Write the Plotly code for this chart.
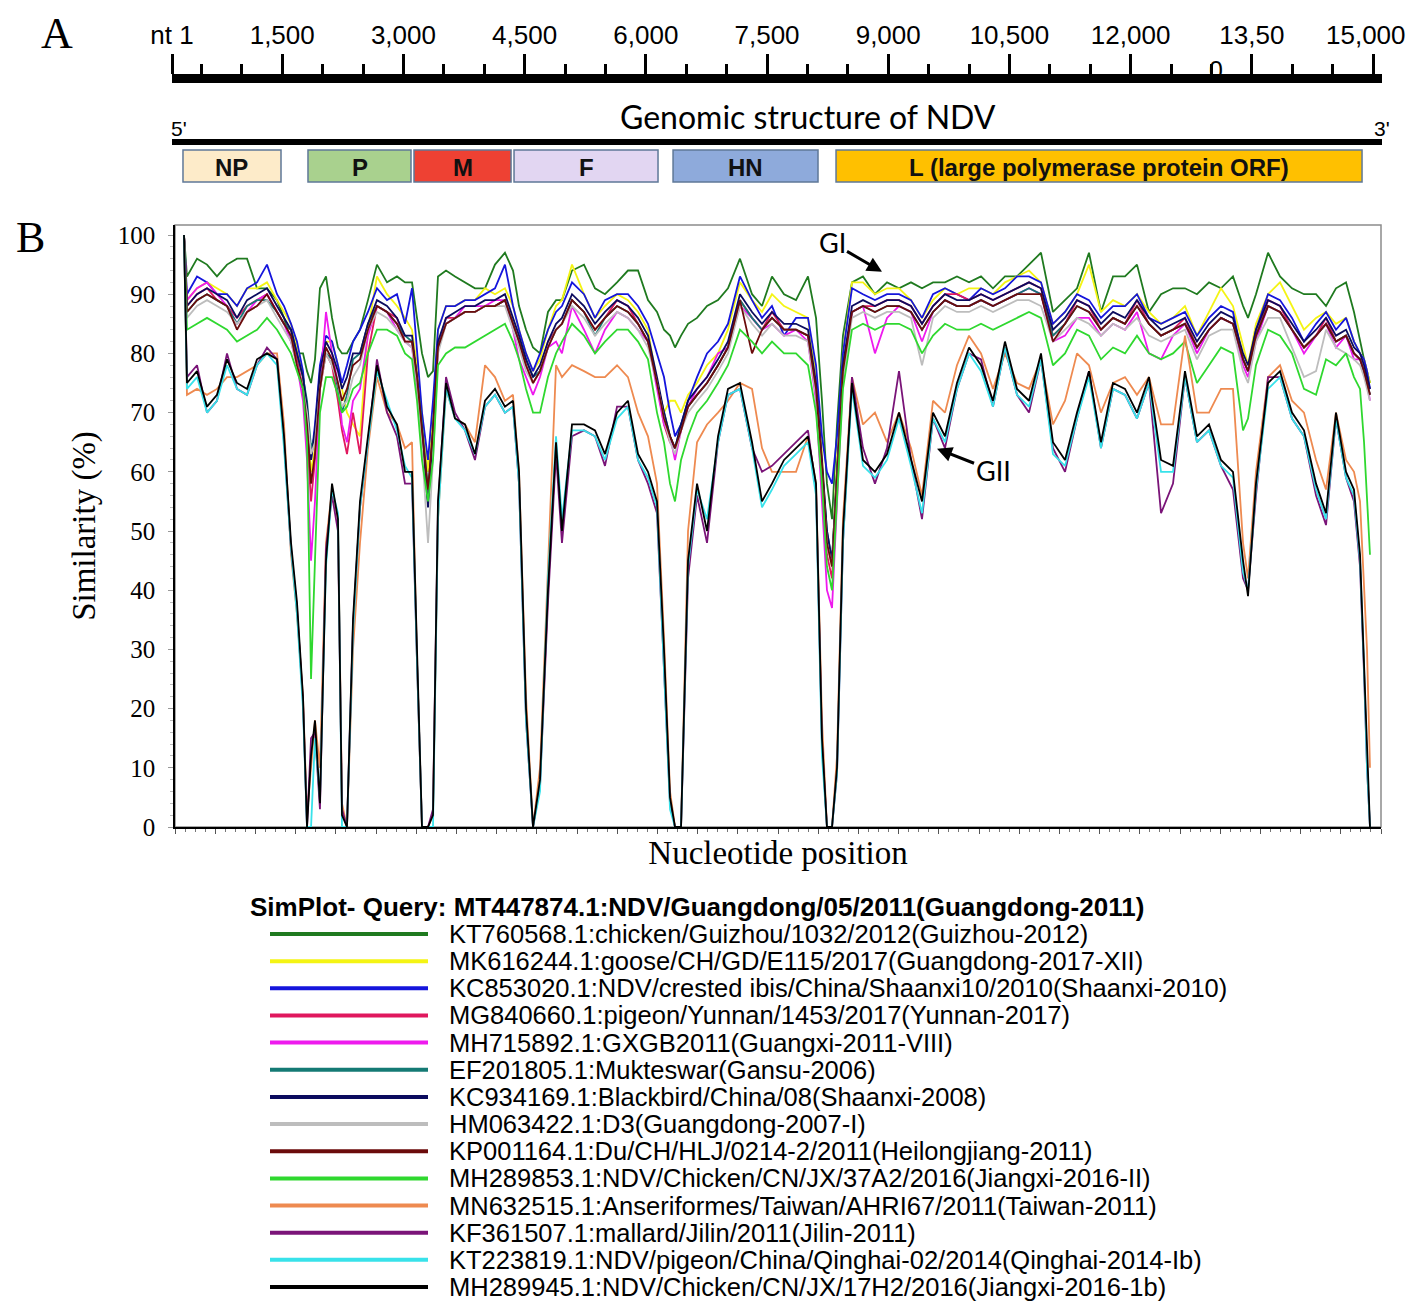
import plotly.graph_objects as go

# ---------------- data ----------------
# window midpoints along the genome (nt)
pos = [112, 149, 274, 398, 522, 647, 771, 896, 1020, 1144, 1269,
       1356, 1443, 1517, 1592, 1642, 1692, 1741, 1803, 1878, 1953, 2027,
       2077, 2139, 2214, 2301, 2400, 2512, 2637, 2761, 2861, 2948, 3010,
       3072, 3147, 3209, 3271, 3371, 3483, 3607, 3731, 3856, 3980, 4104,
       4204, 4279, 4366, 4453, 4540, 4639, 4739, 4813, 4938, 5087, 5224,
       5348, 5498, 5634, 5759, 5883, 5995, 6082, 6157, 6219, 6294, 6381,
       6493, 6617, 6754, 6878, 7027, 7177, 7301, 7425, 7575, 7724, 7873,
       7973, 8047, 8109, 8172, 8234, 8308, 8420, 8557, 8706, 8856, 9005,
       9154, 9291, 9428, 9577, 9726, 9876, 10025, 10174, 10323, 10473, 10622,
       10771, 10920, 11070, 11219, 11368, 11517, 11667, 11816, 11965, 12114, 12264,
       12413, 12562, 12711, 12861, 13010, 13159, 13284, 13346, 13445, 13595, 13744,
       13893, 14042, 14192, 14316, 14440, 14565, 14664, 14739, 14789, 14826, 14863]

guizhou_2012 = [100, 93, 96, 95, 93, 95, 96, 96, 91, 91, 89,
                86, 82, 80, 80, 77, 75, 79, 91, 93, 86, 81,
                80, 80, 82, 84, 89, 95, 92, 93, 92, 92, 86,
                80, 76, 77, 93, 94, 93, 92, 91, 91, 95, 97,
                94, 88, 84, 81, 80, 87, 89, 89, 94, 95, 91,
                90, 92, 94, 94, 89, 87, 84, 83, 81, 83, 85,
                86, 88, 89, 91, 96, 90, 88, 93, 90, 89, 93,
                86, 72, 58, 52, 68, 83, 92, 93, 90, 92, 91,
                92, 91, 92, 92, 93, 92, 93, 91, 93, 93, 95,
                97, 87, 89, 91, 97, 87, 93, 93, 95, 87, 90,
                91, 91, 90, 92, 91, 93, 88, 86, 90, 97, 93,
                91, 90, 90, 88, 91, 92, 87, 82, 79, 77, 75]
guangdong_2017 = [100, 89, 91, 92, 91, 90, 88, 91, 91, 92, 89,
                  87, 85, 81, 76, 70, 60, 64, 75, 82, 82, 78,
                  74, 70, 68, 66, 84, 93, 90, 88, 86, 84, 78,
                  70, 60, 70, 84, 88, 88, 89, 89, 91, 90, 91,
                  88, 84, 80, 77, 79, 84, 88, 89, 95, 90, 86,
                  88, 90, 89, 87, 84, 75, 70, 72, 72, 70, 73,
                  75, 78, 80, 84, 92, 89, 87, 90, 88, 87, 86,
                  76, 63, 48, 44, 62, 80, 92, 92, 90, 91, 91,
                  89, 86, 89, 91, 90, 91, 91, 90, 92, 93, 94,
                  92, 85, 87, 90, 95, 87, 89, 88, 90, 87, 85,
                  86, 88, 83, 87, 91, 88, 81, 78, 85, 90, 92,
                  88, 84, 86, 87, 85, 86, 82, 80, 79, 77, 75]
shaanxi_2010 = [100, 90, 93, 92, 90, 90, 88, 91, 92, 95, 90,
                88, 85, 82, 77, 70, 62, 68, 78, 83, 82, 78,
                75, 78, 82, 84, 87, 91, 89, 90, 85, 91, 80,
                70, 62, 72, 84, 88, 88, 89, 89, 90, 91, 95,
                88, 84, 80, 77, 80, 84, 87, 88, 92, 90, 86,
                89, 90, 90, 88, 85, 80, 76, 70, 66, 68, 72,
                76, 80, 82, 85, 93, 89, 86, 88, 83, 86, 86,
                78, 66, 60, 58, 66, 80, 91, 90, 89, 90, 90,
                89, 86, 90, 91, 90, 89, 91, 90, 91, 93, 93,
                92, 85, 87, 90, 89, 86, 88, 88, 90, 86, 85,
                86, 87, 83, 86, 88, 87, 79, 77, 84, 90, 89,
                86, 82, 85, 87, 84, 86, 82, 80, 79, 77, 74]
yunnan_2017 = [100, 88, 90, 91, 89, 88, 86, 88, 89, 90, 87,
               85, 84, 79, 74, 66, 55, 62, 74, 80, 78, 72,
               67, 63, 70, 63, 80, 88, 87, 86, 82, 82, 76,
               66, 56, 66, 81, 86, 86, 87, 87, 88, 88, 89,
               85, 82, 78, 75, 77, 82, 84, 85, 89, 87, 84,
               86, 89, 88, 85, 82, 75, 68, 65, 64, 67, 71,
               73, 75, 78, 81, 89, 86, 84, 87, 84, 84, 83,
               74, 60, 46, 42, 58, 77, 87, 88, 88, 89, 89,
               88, 85, 88, 90, 90, 89, 90, 89, 90, 91, 92,
               91, 83, 85, 89, 88, 84, 86, 85, 89, 85, 83,
               84, 86, 81, 84, 86, 85, 79, 77, 83, 89, 88,
               84, 81, 83, 86, 82, 83, 80, 79, 77, 75, 73]
guangxi_2011 = [100, 89, 91, 92, 90, 88, 85, 87, 89, 90, 87,
                85, 82, 78, 72, 62, 45, 55, 74, 87, 80, 75,
                68, 65, 72, 74, 83, 88, 87, 84, 82, 81, 74,
                65, 55, 66, 81, 85, 86, 88, 88, 88, 89, 89,
                84, 79, 76, 73, 76, 81, 82, 80, 88, 84, 80,
                84, 87, 86, 84, 82, 74, 68, 66, 62, 67, 71,
                74, 76, 80, 81, 88, 86, 84, 85, 83, 84, 82,
                72, 55, 40, 37, 55, 76, 87, 88, 80, 86, 88,
                87, 82, 87, 89, 88, 88, 89, 88, 89, 90, 91,
                90, 82, 83, 86, 86, 83, 85, 84, 87, 80, 79,
                83, 85, 80, 84, 86, 85, 78, 76, 82, 88, 87,
                84, 80, 83, 85, 81, 83, 79, 79, 77, 75, 72]
gansu_2006 = [100, 87, 89, 90, 89, 88, 85, 88, 89, 89, 87,
              85, 84, 80, 76, 72, 64, 66, 75, 80, 79, 74,
              70, 73, 79, 80, 85, 88, 87, 85, 83, 82, 76,
              68, 57, 67, 81, 85, 86, 87, 87, 88, 88, 89,
              85, 82, 79, 76, 77, 81, 84, 85, 89, 87, 83,
              86, 88, 87, 85, 82, 75, 70, 66, 64, 68, 71,
              73, 75, 78, 81, 89, 86, 84, 86, 84, 84, 83,
              74, 61, 50, 45, 60, 78, 87, 88, 87, 88, 88,
              87, 84, 87, 89, 88, 88, 89, 88, 89, 90, 91,
              90, 83, 85, 88, 87, 84, 86, 85, 88, 85, 83,
              84, 85, 81, 84, 86, 85, 79, 77, 83, 88, 87,
              84, 81, 83, 85, 82, 83, 80, 79, 77, 75, 73]
shaanxi_2008 = [100, 88, 90, 91, 90, 89, 86, 89, 90, 91, 88,
                86, 84, 80, 76, 71, 62, 67, 77, 82, 80, 77,
                74, 76, 80, 80, 85, 89, 88, 86, 83, 83, 76,
                67, 54, 67, 82, 86, 87, 88, 88, 89, 89, 90,
                86, 83, 79, 76, 78, 82, 85, 86, 90, 88, 85,
                87, 89, 88, 86, 83, 76, 70, 66, 64, 68, 72,
                74, 76, 79, 82, 90, 87, 85, 87, 85, 85, 84,
                75, 62, 50, 45, 60, 78, 88, 89, 88, 89, 89,
                88, 85, 88, 90, 89, 89, 90, 89, 90, 91, 92,
                91, 84, 86, 89, 88, 85, 87, 86, 89, 86, 84,
                85, 86, 82, 85, 87, 86, 80, 78, 84, 89, 88,
                85, 82, 84, 86, 83, 84, 81, 80, 78, 76, 74]
guangdong_2007 = [100, 86, 88, 89, 88, 87, 85, 87, 88, 89, 86,
                  84, 82, 78, 74, 70, 63, 65, 74, 80, 78, 75,
                  71, 72, 76, 78, 84, 87, 86, 84, 82, 81, 75,
                  64, 48, 62, 80, 85, 86, 87, 87, 88, 88, 88,
                  84, 81, 77, 75, 77, 81, 84, 85, 88, 86, 83,
                  85, 87, 86, 84, 81, 75, 69, 65, 63, 67, 70,
                  72, 74, 77, 80, 88, 85, 83, 85, 83, 83, 82,
                  73, 60, 48, 44, 58, 76, 86, 87, 86, 87, 87,
                  86, 78, 86, 88, 87, 87, 88, 87, 88, 89, 89,
                  88, 82, 84, 86, 85, 83, 85, 84, 86, 83, 82,
                  83, 84, 79, 83, 84, 84, 77, 75, 82, 86, 86,
                  81, 76, 77, 84, 81, 80, 79, 78, 76, 74, 72]
heilongjiang_2011 = [100, 87, 89, 90, 89, 88, 84, 87, 88, 90, 87,
                     85, 83, 78, 74, 68, 58, 63, 74, 81, 79, 75,
                     72, 74, 78, 79, 84, 88, 87, 85, 82, 82, 76,
                     67, 57, 67, 81, 85, 86, 87, 87, 88, 88, 89,
                     85, 82, 78, 75, 77, 81, 84, 85, 89, 87, 84,
                     86, 88, 87, 85, 82, 75, 69, 66, 64, 67, 71,
                     73, 75, 78, 81, 89, 80, 84, 86, 84, 84, 83,
                     74, 61, 48, 44, 59, 77, 87, 88, 87, 88, 88,
                     87, 84, 87, 89, 88, 88, 89, 88, 89, 90, 90,
                     90, 82, 85, 88, 87, 84, 86, 85, 88, 85, 83,
                     84, 85, 81, 84, 86, 85, 79, 77, 83, 88, 87,
                     84, 81, 83, 85, 82, 83, 80, 79, 77, 75, 73]
jiangxi_2016_ii = [100, 84, 85, 86, 85, 84, 82, 83, 84, 86, 84,
                   82, 80, 77, 74, 65, 25, 45, 70, 76, 76, 73,
                   70, 71, 74, 75, 80, 84, 84, 83, 80, 79, 72,
                   62, 55, 62, 78, 80, 81, 81, 82, 83, 84, 85,
                   82, 79, 74, 70, 70, 76, 80, 82, 85, 83, 80,
                   82, 84, 84, 82, 79, 70, 65, 58, 55, 62, 66,
                   70, 72, 75, 78, 84, 82, 80, 82, 80, 80, 78,
                   70, 58, 44, 40, 55, 74, 84, 85, 84, 85, 85,
                   84, 80, 83, 85, 84, 84, 85, 84, 85, 86, 87,
                   86, 78, 80, 84, 83, 79, 81, 80, 83, 80, 79,
                   80, 82, 75, 78, 81, 80, 67, 69, 78, 84, 83,
                   80, 74, 73, 79, 78, 80, 76, 74, 65, 55, 46]
taiwan_2011 = [100, 73, 74, 73, 74, 76, 76, 77, 78, 80, 80,
               68, 46, 36, 22, 2, 10, 18, 10, 48, 57, 52,
               4, 0, 30, 48, 64, 76, 70, 68, 64, 65, 28,
               0, 0, 2, 52, 74, 69, 68, 65, 78, 76, 72,
               73, 60, 22, 0, 10, 45, 78, 76, 78, 77, 76,
               76, 78, 76, 70, 66, 58, 32, 6, 0, 0, 50,
               65, 68, 70, 72, 75, 74, 64, 60, 60, 60, 66,
               58, 18, 0, 0, 12, 52, 76, 68, 70, 65, 70,
               64, 56, 72, 70, 78, 83, 80, 74, 80, 75, 74,
               79, 68, 72, 80, 78, 70, 75, 76, 73, 76, 68,
               68, 83, 70, 70, 74, 74, 48, 42, 60, 76, 78,
               72, 70, 62, 57, 70, 62, 60, 55, 40, 30, 10]
jilin_2011 = [100, 76, 78, 70, 72, 80, 74, 73, 78, 81, 79,
              65, 47, 37, 21, 0, 15, 16, 3, 47, 56, 50,
              3, 0, 34, 54, 65, 79, 70, 66, 58, 58, 28,
              0, 0, 3, 54, 76, 70, 67, 62, 71, 73, 70,
              71, 58, 18, 0, 7, 38, 63, 48, 66, 67, 66,
              61, 71, 71, 62, 58, 53, 28, 4, 0, 0, 42,
              56, 48, 65, 73, 74, 64, 60, 61, 63, 65, 67,
              57, 14, 0, 0, 9, 48, 76, 64, 58, 64, 77,
              62, 52, 69, 64, 74, 80, 79, 71, 81, 73, 70,
              79, 64, 60, 69, 77, 64, 74, 73, 69, 75, 53,
              58, 76, 65, 67, 61, 57, 42, 40, 56, 76, 76,
              69, 66, 56, 51, 69, 59, 55, 44, 26, 10, 0]
qinghai_2014 = [100, 74, 76, 70, 72, 78, 74, 73, 78, 80, 78,
                64, 47, 36, 20, 0, 0, 15, 5, 44, 57, 53,
                0, 0, 33, 54, 65, 77, 72, 67, 61, 59, 28,
                0, 0, 0, 52, 74, 69, 67, 63, 71, 73, 70,
                71, 58, 18, 0, 6, 42, 66, 52, 67, 67, 66,
                62, 69, 71, 62, 59, 54, 28, 3, 0, 0, 44,
                57, 52, 65, 73, 74, 64, 54, 57, 61, 63, 65,
                56, 12, 0, 0, 9, 48, 74, 61, 59, 62, 69,
                61, 53, 69, 65, 74, 80, 77, 71, 81, 73, 71,
                79, 63, 61, 69, 76, 64, 74, 73, 69, 75, 60,
                60, 76, 65, 67, 61, 59, 43, 40, 57, 74, 76,
                69, 66, 57, 52, 69, 59, 56, 45, 27, 10, 0]
jiangxi_2016_1b = [100, 75, 77, 71, 73, 79, 75, 74, 79, 80, 79,
                   66, 48, 38, 22, 0, 12, 18, 4, 45, 58, 52,
                   2, 0, 35, 55, 66, 78, 71, 68, 60, 60, 30,
                   0, 0, 2, 55, 75, 69, 68, 63, 72, 74, 71,
                   72, 60, 20, 0, 8, 40, 65, 50, 68, 68, 67,
                   63, 70, 72, 63, 60, 55, 30, 5, 0, 0, 45,
                   58, 50, 66, 74, 75, 65, 55, 58, 62, 64, 66,
                   58, 15, 0, 0, 10, 50, 75, 62, 60, 63, 70,
                   62, 55, 70, 66, 75, 81, 78, 72, 82, 74, 72,
                   80, 65, 62, 70, 77, 65, 75, 74, 70, 76, 62,
                   61, 77, 66, 68, 62, 60, 45, 39, 58, 75, 77,
                   70, 67, 58, 53, 70, 60, 57, 46, 28, 12, 0]

strain_names = [
    "KT760568.1:chicken/Guizhou/1032/2012(Guizhou-2012)",
    "MK616244.1:goose/CH/GD/E115/2017(Guangdong-2017-XII)",
    "KC853020.1:NDV/crested ibis/China/Shaanxi10/2010(Shaanxi-2010)",
    "MG840660.1:pigeon/Yunnan/1453/2017(Yunnan-2017)",
    "MH715892.1:GXGB2011(Guangxi-2011-VIII)",
    "EF201805.1:Mukteswar(Gansu-2006)",
    "KC934169.1:Blackbird/China/08(Shaanxi-2008)",
    "HM063422.1:D3(Guangdong-2007-I)",
    "KP001164.1:Du/CH/HLJ/0214-2/2011(Heilongjiang-2011)",
    "MH289853.1:NDV/Chicken/CN/JX/37A2/2016(Jiangxi-2016-II)",
    "MN632515.1:Anseriformes/Taiwan/AHRI67/2011(Taiwan-2011)",
    "KF361507.1:mallard/Jilin/2011(Jilin-2011)",
    "KT223819.1:NDV/pigeon/China/Qinghai-02/2014(Qinghai-2014-Ib)",
    "MH289945.1:NDV/Chicken/CN/JX/17H2/2016(Jiangxi-2016-1b)",
]
strain_values = [guizhou_2012, guangdong_2017, shaanxi_2010, yunnan_2017, guangxi_2011,
                 gansu_2006, shaanxi_2008, guangdong_2007, heilongjiang_2011, jiangxi_2016_ii,
                 taiwan_2011, jilin_2011, qinghai_2014, jiangxi_2016_1b]
strain_colors = ["#1f7a1f", "#f4f414", "#1515dc", "#e0185e", "#ee1aee", "#147a74", "#0b0b5e",
                 "#bdbdbd", "#6b0b0b", "#2fd82f", "#ee8a50", "#7a1478", "#38e2ea", "#000000"]

query_title = "SimPlot- Query: MT447874.1:NDV/Guangdong/05/2011(Guangdong-2011)"

# ruler + genome map (panel A)
ruler_vals = [136, 1500, 3000, 4500, 6000, 7500, 9000, 10500, 12000, 13500, 15000]
ruler_text = ["nt 1", "1,500", "3,000", "4,500", "6,000", "7,500", "9,000",
              "10,500", "12,000", "13,50", "15,000"]
genes = ["NP", "P", "M", "F", "HN", "L (large polymerase protein ORF)"]
gene_start = [272, 1819, 3131, 4369, 6337, 8354]
gene_end = [1485, 3094, 4332, 6151, 8131, 14864]
gene_colors = ["#fdebc9", "#a9d18e", "#ee4133", "#e2d6f2", "#8eaadb", "#ffc000"]

# page body has an 8px margin, so the figure is a bit smaller than the window
OFF = 8
W, H = 1418 - 2 * OFF, 1313 - 2 * OFF
SANS = "Liberation Sans, Arial, sans-serif"
SERIF = "Liberation Serif, Times New Roman, serif"


def px_x(v):
    return (v - OFF) / W


def px_y(v):
    return 1 - (v - OFF) / H


fig = go.Figure()

# similarity curves
for name, vals, col in zip(strain_names, strain_values, strain_colors):
    fig.add_trace(go.Scatter(x=pos, y=vals, mode="lines", name=name,
                             line=dict(color=col, width=1.8), showlegend=False,
                             xaxis="x", yaxis="y"))

# legend samples drawn on their own hidden axes
for i, col in enumerate(strain_colors):
    fig.add_trace(go.Scatter(x=[0, 1], y=[-i, -i], mode="lines",
                             line=dict(color=col, width=4), showlegend=False,
                             hoverinfo="skip", xaxis="x3", yaxis="y3"))

# dummy trace so the ruler subplot exists
fig.add_trace(go.Scatter(x=[ruler_vals[0]], y=[0], mode="markers", marker=dict(opacity=0),
                         showlegend=False, hoverinfo="skip", xaxis="x2", yaxis="y2"))

shapes = []
annotations = []

# plot frame
shapes.append(dict(type="rect", xref="x domain", yref="y domain", x0=0, x1=1, y0=0, y1=1,
                   line=dict(color="#8c8c8c", width=1.5), layer="below"))

# genome line and gene boxes
shapes.append(dict(type="line", xref="x2 domain", yref="paper", x0=0, x1=1,
                   y0=px_y(142), y1=px_y(142), line=dict(color="black", width=6)))
for g, s, e, c in zip(genes, gene_start, gene_end, gene_colors):
    shapes.append(dict(type="rect", xref="x2", yref="paper", x0=s, x1=e,
                       y0=px_y(182), y1=px_y(150), fillcolor=c,
                       line=dict(color="#5f7898", width=1.5)))
    annotations.append(dict(x=(s + e) / 2, y=px_y(167), xref="x2", yref="paper", text="<b>%s</b>" % g,
                            showarrow=False, xanchor="center", yanchor="middle",
                            font=dict(family=SANS, size=24, color="#111")))


def note(x, y, text, size, family=SANS, xanchor="center"):
    return dict(x=px_x(x), y=px_y(y), xref="paper", yref="paper", text=text, showarrow=False,
                xanchor=xanchor, yanchor="middle", font=dict(family=family, size=size, color="black"))


annotations += [
    note(57, 33, "A", 44, SERIF),
    note(30, 238, "B", 44, SERIF),
    note(808, 116, "Genomic structure of NDV", 32, "Lato, Carlito, sans-serif"),
    note(179, 128, "5'", 21),
    note(1382, 128, "3'", 21),
    note(1216, 70, "0", 25),
    # last ruler label sits against the right edge of the page
    note(1408, 35, ruler_text[-1], 26, xanchor="right"),
    note(248, 907, "<b>%s</b>" % query_title, 26, xanchor="left"),
    # group labels
    dict(x=8794, y=93.8, xref="x", yref="y", text="GI", showarrow=True, ax=-50, ay=-29,
         arrowhead=2, arrowsize=1, arrowwidth=3, arrowcolor="black",
         font=dict(family="Lato, sans-serif", size=27, color="black")),
    dict(x=9478, y=63.9, xref="x", yref="y", text="GII", showarrow=True, ax=56, ay=22,
         arrowhead=2, arrowsize=1, arrowwidth=3, arrowcolor="black",
         font=dict(family="Lato, sans-serif", size=27, color="black")),
]
for i, name in enumerate(strain_names):
    annotations.append(dict(x=px_x(447), y=-i, xref="paper", yref="y3", text=name,
                            showarrow=False, xanchor="left", yanchor="middle",
                            font=dict(family=SANS, size=25.5, color="black")))

fig.update_layout(
    width=W, height=H,
    margin=dict(l=0, r=0, t=0, b=0, autoexpand=False),
    paper_bgcolor="white", plot_bgcolor="white",
    showlegend=False,
    shapes=shapes,
    annotations=annotations,
    xaxis=dict(domain=[px_x(175), px_x(1381)], range=[0, 15000], anchor="y", automargin=False,
               showline=True, linecolor="black", linewidth=2,
               ticks="outside", ticklen=5, tickcolor="#555", tickmode="linear", tick0=0, dtick=500,
               minor=dict(ticks="outside", ticklen=3, tickcolor="#777", dtick=125),
               showticklabels=False, showgrid=False, zeroline=False,
               title=dict(text="Nucleotide position", standoff=8,
                          font=dict(family=SERIF, size=33, color="black"))),
    yaxis=dict(domain=[px_y(827), px_y(225)], range=[0, (827 - 225) / 5.92], anchor="x",
               automargin=False, showline=True, linecolor="black", linewidth=1.5,
               tickmode="array", tickvals=list(range(0, 101, 10)),
               ticks="outside", ticklen=5, tickcolor="#999",
               minor=dict(ticks="outside", ticklen=3, tickcolor="#bbb", dtick=2),
               tickfont=dict(family=SERIF, size=25, color="black"), ticklabelstandoff=8,
               showgrid=False, zeroline=False,
               title=dict(text="Similarity (%)", standoff=12,
                          font=dict(family=SERIF, size=33, color="black"))),
    xaxis2=dict(domain=[px_x(172), px_x(1382)], range=[ruler_vals[0], 15111], anchor="y2",
                automargin=False, side="top", showline=True, linecolor="black", linewidth=9,
                tickmode="array", tickvals=ruler_vals, ticktext=ruler_text[:-1] + [""],
                ticks="outside", ticklen=20, tickwidth=2.5, tickcolor="black",
                minor=dict(ticks="outside", ticklen=10, tickwidth=2.5, tickcolor="black",
                           tickmode="linear", tick0=0, dtick=500),
                tickfont=dict(family=SANS, size=26, color="black"),
                showgrid=False, zeroline=False, fixedrange=True),
    yaxis2=dict(domain=[px_y(95), px_y(83)], range=[0, 1], anchor="x2", visible=False),
    xaxis3=dict(domain=[px_x(270), px_x(428)], range=[0, 1], anchor="y3", visible=False),
    yaxis3=dict(domain=[px_y(1300.6), px_y(920.4)], range=[-13.5, 0.5], anchor="x3", visible=False),
)

fig.write_html("out.html")
